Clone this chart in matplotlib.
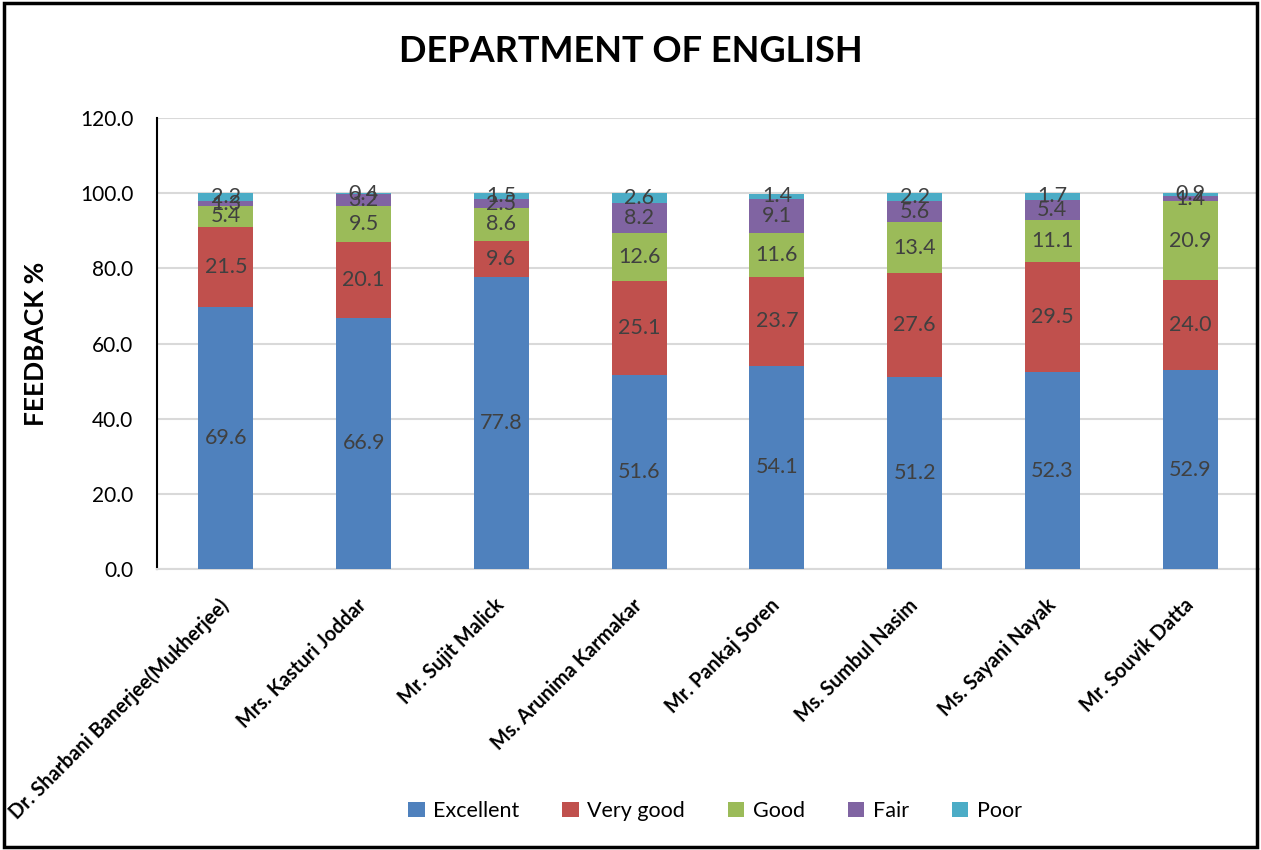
import matplotlib
matplotlib.use("Agg")
import matplotlib.pyplot as plt
import numpy as np

categories = ["Dr. Sharbani Banerjee(Mukherjee)", "Mrs. Kasturi Joddar", "Mr. Sujit Malick",
              "Ms. Arunima Karmakar", "Mr. Pankaj Soren", "Ms. Sumbul Nasim",
              "Ms. Sayani Nayak", "Mr. Souvik Datta"]
excellent = [69.6, 66.9, 77.8, 51.6, 54.1, 51.2, 52.3, 52.9]
very_good = [21.5, 20.1, 9.6, 25.1, 23.7, 27.6, 29.5, 24.0]
good = [5.4, 9.5, 8.6, 12.6, 11.6, 13.4, 11.1, 20.9]
fair = [1.3, 3.2, 2.5, 8.2, 9.1, 5.6, 5.4, 1.4]
poor = [2.2, 0.4, 1.5, 2.6, 1.4, 2.2, 1.7, 0.9]
series_names = ["Excellent", "Very good", "Good", "Fair", "Poor"]
colors = ["#4F81BD", "#C0504D", "#9BBB59", "#8064A2", "#4BACC6"]

plt.rcParams['font.family'] = ['Lato', 'DejaVu Sans']

fig = plt.figure(figsize=(12.61, 8.5), dpi=100)
ax = fig.add_axes([157 / 1261, 1 - 569 / 850, (1259 - 157) / 1261, (569 - 118) / 850])

x = np.arange(len(categories))
bottom = np.zeros(len(categories))
for name, vals, c in zip(series_names, [excellent, very_good, good, fair, poor], colors):
    vals = np.array(vals)
    ax.bar(x, vals, 0.40, bottom=bottom, color=c, label=name, zorder=3)
    for xi, b, v in zip(x, bottom, vals):
        ax.text(xi, b + v / 2, f"{v:.1f}", ha="center", va="center",
                fontsize=15.5, color="#404040", zorder=4)
    bottom += vals

ax.set_xlim(-0.5, len(categories) - 0.5)
ax.set_ylim(0, 120)
ax.set_yticks(np.arange(0, 121, 20))
ax.set_yticklabels([f"{v:.1f}" for v in np.arange(0, 121, 20)], fontsize=15)
ax.yaxis.grid(True, color="#D9D9D9", linewidth=1.5, zorder=0)
ax.set_axisbelow(True)
ax.set_xticks(x)
ax.set_xticklabels(categories, rotation=45, ha="right", va="center", rotation_mode="anchor",
                   fontsize=14.3, fontweight="bold")
ax.tick_params(axis="x", length=0, pad=24)
ax.tick_params(axis="y", length=0, pad=17)
for s in ["top", "right"]:
    ax.spines[s].set_visible(False)
ax.spines["left"].set_color("black")
ax.spines["left"].set_linewidth(1.5)
ax.spines["bottom"].set_color("#D9D9D9")
ax.spines["bottom"].set_linewidth(1.5)
ax.set_ylabel("FEEDBACK %", fontsize=19, fontweight="bold", labelpad=23)

fig.text(0.5, 1 - 52 / 850, "DEPARTMENT OF ENGLISH", fontsize=26, fontweight="bold",
         ha="center", va="center")

fig.legend(loc="center", bbox_to_anchor=(0.567, 1 - 811 / 850), ncol=5, frameon=False,
           fontsize=15.5, handlelength=0.75, handleheight=0.75, columnspacing=2.0,
           handletextpad=0.4)

border = plt.Rectangle((0.003, 0.003), 0.994, 0.994, transform=fig.transFigure,
                       fill=False, edgecolor="black", linewidth=2.5)
fig.patches.append(border)

fig.savefig("out.png", dpi=100)
